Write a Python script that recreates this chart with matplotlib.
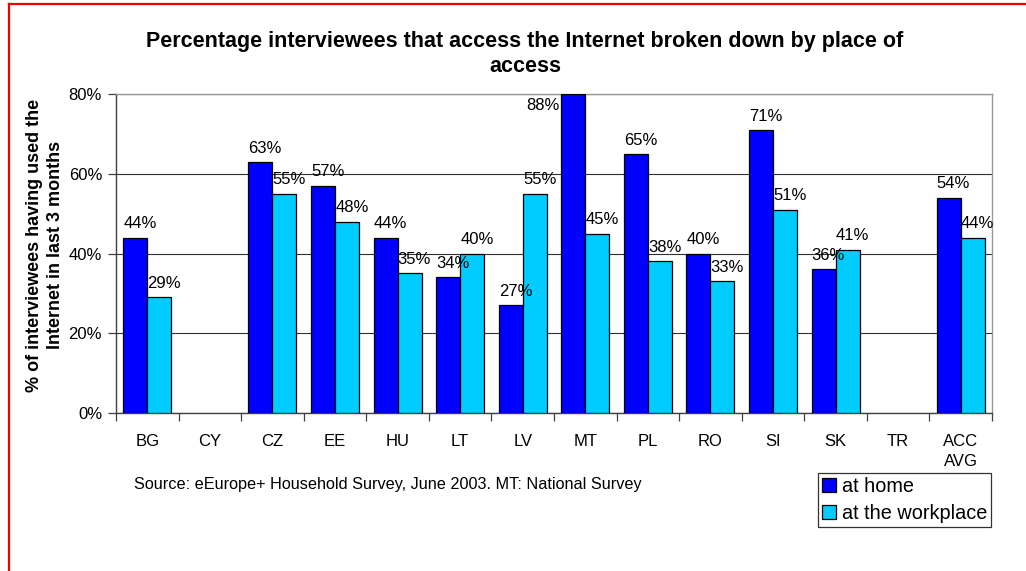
import numpy as np
import matplotlib
matplotlib.use("Agg")
from matplotlib import pyplot as plt
from matplotlib.lines import Line2D
from matplotlib.patches import Patch

plt.rcParams["font.family"] = ["Liberation Sans", "DejaVu Sans"]

# share of interviewees using the Internet, per place of access (%)
countries = ["BG", "CY", "CZ", "EE", "HU", "LT", "LV", "MT", "PL", "RO", "SI", "SK", "TR", "ACC\nAVG"]
at_home = [44, np.nan, 63, 57, 44, 34, 27, 88, 65, 40, 71, 36, np.nan, 54]
at_work = [29, np.nan, 55, 48, 35, 40, 55, 45, 38, 33, 51, 41, np.nan, 44]
series_names = ["at home", "at the workplace"]

home_col = "#0000FF"
work_col = "#00CCFF"
ymax = 80

W, H = 1026, 571
fig = plt.figure(figsize=(W / 100, H / 100), dpi=100)
ax = fig.add_axes([116 / W, 1 - 413 / H, (992 - 116) / W, (413 - 94) / H])

x = np.arange(len(countries))
w = 0.384
home = np.array(at_home, dtype=float)
work = np.array(at_work, dtype=float)
ok_h = ~np.isnan(home)
ok_w = ~np.isnan(work)
ax.bar(x[ok_h] - w / 2, np.minimum(home[ok_h], ymax), w, color=home_col,
       edgecolor="black", linewidth=0.9, zorder=3)
ax.bar(x[ok_w] + w / 2, work[ok_w], w, color=work_col,
       edgecolor="black", linewidth=0.9, zorder=3)

# value labels
for xs, vals in ((x - w / 2, home), (x + w / 2, work)):
    for xi, v in zip(xs, vals):
        if np.isnan(v):
            continue
        if v > ymax:
            # bar runs off the scale: label sits beside it at the top
            ax.annotate(f"{v:.0f}%", (xi - w / 2, ymax), xytext=(-1, -3),
                        textcoords="offset points", ha="right", va="top",
                        fontsize=12, zorder=4)
        else:
            ax.annotate(f"{v:.0f}%", (xi, v), xytext=(3.5, 4.5),
                        textcoords="offset points", ha="center", va="bottom",
                        fontsize=12, zorder=4)

ax.set_xlim(-0.5, len(countries) - 0.5)
ax.set_ylim(0, ymax)
ax.set_yticks([0, 20, 40, 60, 80])
ax.set_yticklabels(["0%", "20%", "40%", "60%", "80%"], fontsize=12)
ax.yaxis.grid(True, color="#303030", linewidth=0.8)
ax.set_axisbelow(True)

ax.set_xticks(x)
ax.set_xticklabels(countries, fontsize=12, linespacing=1.45)
ax.set_xticks(np.arange(-0.5, len(countries)), minor=True)
ax.tick_params(axis="x", which="major", length=0, pad=15)
ax.tick_params(axis="x", which="minor", length=6, color="#404040", width=0.9)
ax.tick_params(axis="y", length=6, color="#404040", width=0.9, pad=4)

for s in ("left", "bottom"):
    ax.spines[s].set_color("#404040")
    ax.spines[s].set_linewidth(1.0)
for s in ("top", "right"):
    ax.spines[s].set_color("#999999")
    ax.spines[s].set_linewidth(1.0)

fig.text(525 / W, 1 - 54 / H,
         "Percentage interviewees that access the Internet broken down by place of\naccess",
         ha="center", va="center", fontsize=15.5, fontweight="bold", linespacing=1.25)

fig.text(45 / W, 1 - 245 / H,
         "% of interviewees having used the\nInternet in last 3 months",
         ha="center", va="center", rotation=90, fontsize=13, fontweight="bold",
         linespacing=1.3)

fig.text(134 / W, 1 - 484 / H,
         "Source: eEurope+ Household Survey, June 2003. MT: National Survey",
         ha="left", va="center", fontsize=11.7)

handles = [Patch(facecolor=home_col, edgecolor="black", linewidth=0.9),
           Patch(facecolor=work_col, edgecolor="black", linewidth=0.9)]
leg = fig.legend(handles, series_names, loc="upper right",
                 bbox_to_anchor=(991 / W, 1 - 473 / H), fontsize=14.3,
                 frameon=True, fancybox=False, edgecolor="black",
                 borderpad=0.2, borderaxespad=0, handlelength=0.7,
                 handleheight=0.7, handletextpad=0.3, labelspacing=0.42)
leg.get_frame().set_linewidth(0.9)

# red frame around the whole graphic
fig.add_artist(Line2D([8.5 / W, 8.5 / W], [0, 1 - 3.5 / H], color="#EE0000", linewidth=1.6))
fig.add_artist(Line2D([8.5 / W, 1], [1 - 3.5 / H, 1 - 3.5 / H], color="#EE0000", linewidth=1.6))

fig.savefig("out.png", dpi=100, facecolor="white")
